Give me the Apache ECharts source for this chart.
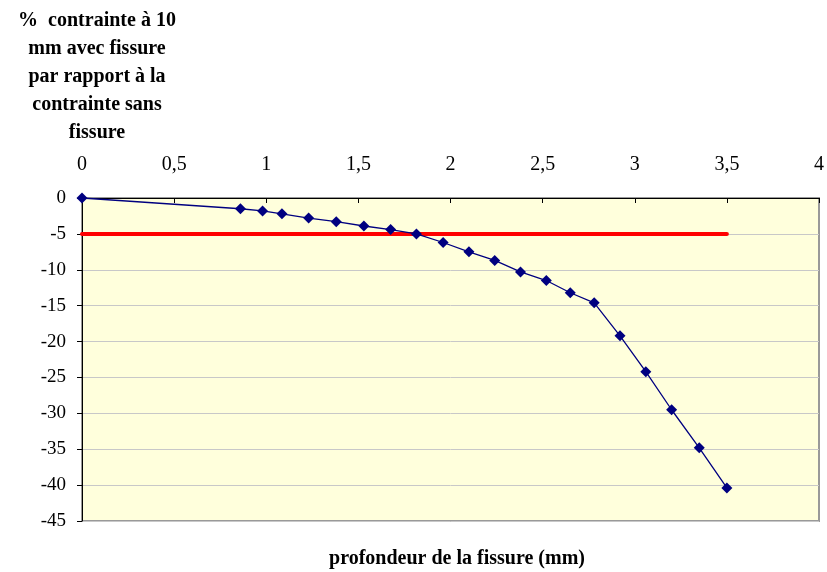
<!DOCTYPE html>
<html>
<head>
<meta charset="utf-8">
<script src="https://cdn.jsdelivr.net/npm/echarts@6/dist/echarts.min.js"></script>
<style>
html,body{margin:0;padding:0;background:#fff;}
#chart{width:827px;height:572px;}
</style>
</head>
<body>
<div id="chart"></div>
<script>
// Data
var depth = [0, 0.86, 0.98, 1.085, 1.23, 1.38, 1.53, 1.675, 1.815, 1.96, 2.10, 2.24, 2.38, 2.52, 2.65, 2.78, 2.92, 3.06, 3.20, 3.35, 3.50];
var stressPct = [0, -1.5, -1.8, -2.2, -2.8, -3.3, -3.9, -4.4, -5.0, -6.2, -7.5, -8.7, -10.3, -11.5, -13.2, -14.6, -19.2, -24.2, -29.5, -34.8, -40.4];
var limitX = [0, 3.5];
var limitY = [-5, -5];
var titleLines = ['%  contrainte à 10', 'mm avec fissure', 'par rapport à la', 'contrainte sans', 'fissure'];
var xAxisName = 'profondeur de la fissure (mm)';

var mainData = depth.map(function (d, i) { return [d, stressPct[i]]; });
var limitData = limitX.map(function (d, i) { return [d, limitY[i]]; });

var font = '"Liberation Serif", "Times New Roman", serif';
var chart = echarts.init(document.getElementById('chart'), null, {renderer: 'canvas'});
chart.setOption({
  animation: false,
  backgroundColor: '#ffffff',
  title: [{
    text: titleLines.join('\n'),
    left: 92,
    top: 2,
    textAlign: 'center',
    textStyle: {fontFamily: font, fontWeight: 'bold', fontSize: 20, lineHeight: 28, color: '#000'}
  }, {
    text: xAxisName,
    left: 452,
    top: 544,
    textAlign: 'center',
    textStyle: {fontFamily: font, fontWeight: 'bold', fontSize: 20, color: '#000'}
  }],
  grid: {
    left: 82, top: 198, right: 5, bottom: 51,
    show: true,
    backgroundColor: '#FFFFDC',
    borderColor: '#999999',
    borderWidth: 2
  },
  xAxis: {
    type: 'value',
    position: 'top',
    min: 0, max: 4, interval: 0.5,
    axisLine: {show: true, onZero: false, lineStyle: {color: '#000', width: 1}},
    axisTick: {show: true, inside: true, length: 5, lineStyle: {color: '#000'}},
    axisLabel: {
      margin: 23,
      fontFamily: font, fontSize: 20, color: '#000',
      formatter: function (v) { return String(v).replace('.', ','); }
    },
    splitLine: {show: false}
  },
  yAxis: {
    type: 'value',
    min: -45, max: 0, interval: 5,
    axisLine: {show: true, onZero: false, lineStyle: {color: '#000', width: 1}},
    axisTick: {show: true, inside: false, length: 5, lineStyle: {color: '#000'}},
    axisLabel: {margin: 16, fontFamily: font, fontSize: 19, color: '#000'},
    splitLine: {show: true, lineStyle: {color: '#C8C8C8', width: 1}}
  },
  series: [{
    type: 'line',
    data: limitData,
    symbol: 'none',
    lineStyle: {color: '#FF0000', width: 4, cap: 'round'},
    silent: true,
    z: 2
  }, {
    type: 'line',
    data: mainData,
    symbol: 'diamond',
    symbolSize: 11,
    itemStyle: {color: '#000080'},
    lineStyle: {color: '#000080', width: 1.3},
    z: 3
  }]
});
</script>
</body>
</html>
